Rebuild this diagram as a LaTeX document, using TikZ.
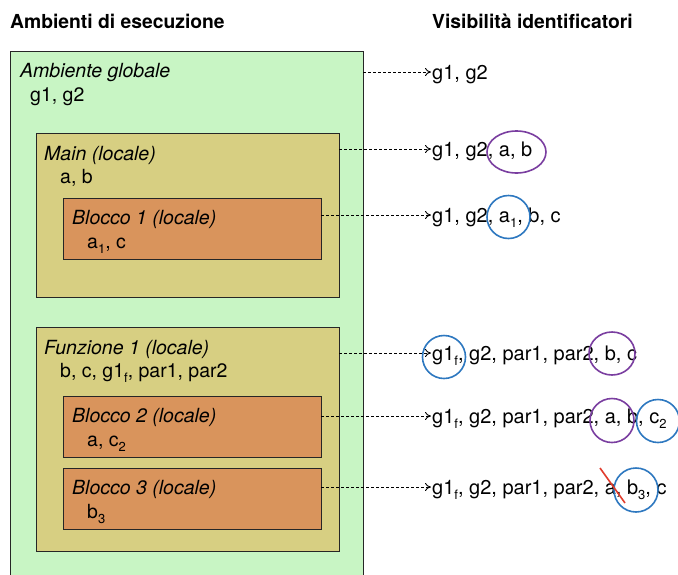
\documentclass[tikz,border=0pt]{standalone}
\usepackage{fontspec}
\setmainfont{TeX Gyre Heros}
\usetikzlibrary{arrows.meta}
\definecolor{gr}{RGB}{200,245,196}
\definecolor{ol}{RGB}{215,207,130}
\definecolor{orng}{RGB}{217,148,92}
\definecolor{purp}{RGB}{122,62,160}
\definecolor{blu}{RGB}{46,120,192}
\definecolor{rd}{RGB}{225,60,45}
\tikzset{
  box/.style={draw=black!85, line width=1pt, anchor=north west, inner sep=0pt, outer sep=0pt},
  ttl/.style={anchor=base west, inner sep=0pt, font=\fontsize{19.5}{22}\selectfont\itshape},
  var/.style={anchor=base west, inner sep=0pt, font=\fontsize{19.5}{22}\selectfont},
  vis/.style={anchor=west, inner xsep=1pt, inner ysep=0pt, text height=14pt, text depth=0pt, font=\fontsize{20}{22}\selectfont},
  hd/.style={anchor=base west, inner sep=0pt, font=\fontsize{19.3}{22}\selectfont\bfseries},
  arr/.style={-{To[length=6pt,width=8pt]}, dash pattern=on 3pt off 2pt, line width=0.9pt},
  ring/.style={line width=1.6pt}
}
\newcommand{\sbs}[1]{\raisebox{-5pt}{\fontsize{13}{15}\selectfont #1}}
\begin{document}
\begin{tikzpicture}[x=1pt,y=-1pt]
\useasboundingbox (0,0) rectangle (678,574);
\clip (0,0) rectangle (678,574);
\fill[white] (0,0) rectangle (678,574);
% headings
\node[hd] (h1) at (10,28) {Ambienti di esecuzione};
\node[hd] (h2) at (432,28) {Visibilità identificatori};
% boxes
\node[box, fill=gr, minimum width=353pt, minimum height=540pt] (glob) at (10,51) {};
\node[box, fill=ol, minimum width=303pt, minimum height=164pt] (main) at (36,133) {};
\node[box, fill=orng, minimum width=258pt, minimum height=61pt] (b1) at (63,198) {};
\node[box, fill=ol, minimum width=303pt, minimum height=224pt] (fun) at (36,327) {};
\node[box, fill=orng, minimum width=258pt, minimum height=61pt] (b2) at (63,396) {};
\node[box, fill=orng, minimum width=258pt, minimum height=61pt] (b3) at (63,468) {};
% box texts
\node[ttl] (tg) at (20,77) {Ambiente globale};
\node[var] (vg) at (30,101) {g1, g2};
\node[ttl] (tm) at (44,160) {Main (locale)};
\node[var] (vm) at (60,183) {a, b};
\node[ttl] (tb1) at (72,224) {Blocco 1 (locale)};
\node[var] (vb1) at (87,248) {a\sbs{1}, c};
\node[ttl] (tf) at (44,354) {Funzione 1 (locale)};
\node[var] (vf) at (60,377) {b, c, g1\sbs{f}, par1, par2};
\node[ttl] (tb2) at (72,422) {Blocco 2 (locale)};
\node[var] (vb2) at (87,446) {a, c\sbs{2}};
\node[ttl] (tb3) at (72,494) {Blocco 3 (locale)};
\node[var] (vb3) at (87,518) {b\sbs{3}};
% visibility texts
\node[vis] (r0) at (431,72) {g1, g2};
\node[vis] (r1) at (431,149) {g1, g2, a, b};
\node[vis] (r2) at (431,215) {g1, g2, a\sbs{1}, b, c};
\node[vis] (r3) at (431,353) {g1\sbs{f}, g2, par1, par2, b, c};
\node[vis] (r4) at (431,416) {g1\sbs{f}, g2, par1, par2, a, b, c\sbs{2}};
\node[vis] (r5) at (431,487) {g1\sbs{f}, g2, par1, par2, a, b\sbs{3}, c};
% arrows
\draw[arr] (glob.east |- r0.west) -- (r0.west);
\draw[arr] (main.east |- r1.west) -- (r1.west);
\draw[arr] (b1.east |- r2.west) -- (r2.west);
\draw[arr] (fun.east |- r3.west) -- (r3.west);
\draw[arr] (b2.east |- r4.west) -- (r4.west);
\draw[arr] (b3.east |- r5.west) -- (r5.west);
% rings
\draw[ring, purp] (516.5,152) ellipse (29.5 and 21);
\draw[ring, blu] (508.5,217) circle (21.5);
\draw[ring, blu] (444,357) circle (21.5);
\draw[ring, purp] (612,353.5) ellipse (23 and 21.5);
\draw[ring, purp] (612,420.5) circle (22);
\draw[ring, blu] (658,421) circle (21.5);
\draw[ring, blu] (636,490) circle (22);
\draw[line width=1.6pt, rd] (600,468) -- (625,503);
\end{tikzpicture}
\end{document}
